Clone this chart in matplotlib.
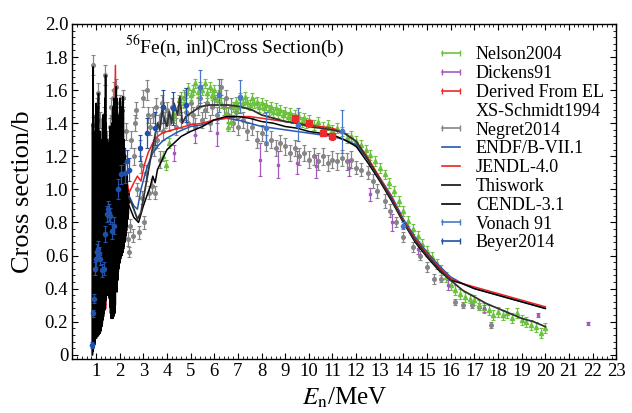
import numpy as np
import matplotlib.pyplot as plt
from matplotlib.lines import Line2D
from matplotlib.ticker import MultipleLocator

plt.rcParams['font.family'] = ['Liberation Serif', 'DejaVu Serif']
plt.rcParams['mathtext.fontset'] = 'stix'

# ---- resonance region (black evaluated curve below 2.4 MeV) ----
res_e = [0.84, 0.855, 0.865, 0.88, 0.89, 0.905, 0.915, 0.93, 0.94, 0.955, 0.965, 0.98, 0.99,
         1.005, 1.015, 1.03, 1.04, 1.055, 1.065, 1.08, 1.09, 1.105, 1.115, 1.13, 1.14, 1.155,
         1.165, 1.18, 1.19, 1.205, 1.215, 1.23, 1.24, 1.255, 1.265, 1.28, 1.29, 1.305, 1.315,
         1.33, 1.34, 1.355, 1.365, 1.38, 1.39, 1.405, 1.415, 1.43, 1.44, 1.455, 1.465, 1.48,
         1.49, 1.505, 1.515, 1.53, 1.54, 1.555, 1.565, 1.58, 1.59, 1.605, 1.615, 1.63, 1.64,
         1.655, 1.665, 1.68, 1.69, 1.705, 1.715, 1.73, 1.74, 1.755, 1.765, 1.78, 1.79, 1.805,
         1.815, 1.83, 1.84, 1.855, 1.865, 1.88, 1.89, 1.905, 1.915, 1.93, 1.94, 1.955, 1.965,
         1.98, 1.99, 2.005, 2.015, 2.03, 2.04, 2.055, 2.065, 2.08, 2.09, 2.105, 2.115, 2.13,
         2.14, 2.155, 2.165, 2.18, 2.19, 2.205, 2.215, 2.23, 2.24, 2.255, 2.265, 2.28, 2.29,
         2.305, 2.315, 2.33, 2.34, 2.355, 2.365, 2.38, 2.40]
res_y = [0.00, 1.40, 0.02, 1.74, 0.04, 1.35, 0.05, 1.30, 0.06, 1.22, 0.08, 1.45, 0.10,
         1.52, 0.10, 1.38, 0.12, 1.42, 0.11, 1.50, 0.12, 1.58, 0.12, 1.30, 0.13, 1.25,
         0.13, 1.35, 0.14, 1.30, 0.15, 1.15, 0.17, 1.25, 0.19, 1.40, 0.21, 1.45, 0.23,
         1.30, 0.25, 1.35, 0.27, 1.55, 0.30, 1.69, 0.33, 1.40, 0.36, 1.20, 0.38, 1.30,
         0.36, 1.28, 0.38, 1.12, 0.40, 1.10, 0.34, 1.30, 0.29, 1.38, 0.25, 1.28, 0.22,
         1.25, 0.23, 1.40, 0.24, 1.45, 0.22, 1.50, 0.23, 1.55, 0.24, 1.40, 0.25, 1.35,
         0.30, 1.45, 0.40, 1.62, 0.45, 1.55, 0.38, 1.30, 0.45, 1.35, 0.50, 1.40, 0.52,
         1.45, 0.55, 1.55, 0.56, 1.45, 0.58, 1.35, 0.60, 1.42, 0.60, 1.50, 0.62, 1.56,
         0.62, 1.48, 0.64, 1.30, 0.66, 1.25, 0.68, 1.20, 0.70, 1.10, 0.72, 1.05, 0.75,
         1.10, 0.78, 1.00, 0.82, 0.95, 0.85, 0.98, 0.92]

jendl_res_e = [0.86, 0.95, 1.00, 1.05, 1.20, 1.30, 1.42, 1.46, 1.50, 1.60, 1.70, 1.78, 1.82, 1.86, 1.95, 2.10, 2.25, 2.40]
jendl_res_y = [0.00, 0.10, 0.55, 0.12, 0.90, 0.50, 0.28, 0.45, 1.20, 0.70, 1.30, 0.90, 1.75, 1.00, 1.20, 0.70, 1.10, 0.98]

# ---- smooth evaluated curves ----
thiswork_e = [2.4, 2.6, 2.75, 2.9, 3.05, 3.2, 3.35, 3.5, 3.6, 3.7, 3.8, 3.9, 4.0, 4.1, 4.2, 4.3,
              4.45, 4.55, 4.65, 4.8, 5.0, 5.4, 5.8, 6.2, 6.6, 7.1, 7.6, 8.0, 8.5, 9.0, 9.5, 10.0,
              10.5, 11.0, 11.5, 12.0, 12.5, 13.0, 13.5, 14.0, 14.5, 15.0, 15.5, 16.0, 16.5, 17.0,
              17.5, 18.0, 18.5, 19.0, 19.5, 20.0]
thiswork_y = [0.95, 0.88, 0.82, 0.86, 0.98, 1.10, 1.22, 1.33, 1.40, 1.36, 1.48, 1.42, 1.38, 1.47,
              1.40, 1.52, 1.45, 1.56, 1.40, 1.44, 1.46, 1.50, 1.51, 1.51, 1.51, 1.50, 1.48, 1.45,
              1.43, 1.41, 1.40, 1.38, 1.37, 1.36, 1.34, 1.29, 1.18, 1.06, 0.94, 0.80, 0.69, 0.60,
              0.52, 0.45, 0.39, 0.35, 0.31, 0.28, 0.25, 0.22, 0.20, 0.17]

cendl_e = [2.4, 2.6, 2.8, 3.0, 3.2, 3.3, 3.4, 3.5, 3.6, 3.8, 4.0, 4.3, 4.6, 5.0, 5.5, 6.0, 6.5,
           7.0, 7.5, 8.0, 8.5, 9.0, 9.5, 10.0, 10.5, 11.0, 11.5, 12.0, 12.5, 13.0, 13.5, 14.0,
           14.5, 15.0, 15.5, 16.0, 16.5, 17.0, 17.5, 18.0, 18.5, 19.0, 19.5, 20.0]
cendl_y = [0.90, 0.83, 0.80, 0.90, 0.98, 1.02, 1.08, 1.04, 1.12, 1.18, 1.24, 1.28, 1.32, 1.35,
           1.38, 1.42, 1.44, 1.44, 1.43, 1.41, 1.40, 1.38, 1.37, 1.35, 1.34, 1.33, 1.30, 1.26,
           1.16, 1.05, 0.93, 0.80, 0.68, 0.59, 0.51, 0.45, 0.43, 0.40, 0.38, 0.36, 0.34, 0.32,
           0.30, 0.28]

jendl_e = [2.4, 2.6, 2.75, 2.9, 3.05, 3.2, 3.4, 3.6, 3.8, 4.0, 4.5, 5.0, 5.5, 6.0, 6.5, 7.0,
           7.5, 8.0, 8.5, 9.0, 9.5, 10.0, 10.5, 11.0, 11.5, 12.0, 12.5, 13.0, 13.5, 14.0, 14.5,
           15.0, 15.5, 16.0, 16.5, 17.0, 17.5, 18.0, 18.5, 19.0, 19.5, 20.0]
jendl_y = [0.98, 1.04, 1.08, 1.05, 1.15, 1.22, 1.28, 1.32, 1.34, 1.35, 1.37, 1.39, 1.40, 1.42,
           1.43, 1.44, 1.44, 1.43, 1.42, 1.41, 1.40, 1.39, 1.38, 1.37, 1.34, 1.29, 1.19, 1.07,
           0.95, 0.81, 0.70, 0.61, 0.53, 0.46, 0.43, 0.41, 0.39, 0.37, 0.35, 0.33, 0.31, 0.29]

endf_e = [2.4, 2.6, 2.75, 2.9, 3.05, 3.2, 3.4, 3.6, 3.8, 4.0, 4.5, 5.0, 5.5, 6.0, 6.5, 7.0,
          7.5, 8.0, 8.5, 9.0, 9.5, 10.0, 10.5, 11.0, 11.5, 12.0, 12.5, 13.0, 13.5, 14.0, 14.5,
          15.0, 15.5, 16.0, 16.5, 17.0, 17.5, 18.0, 18.5, 19.0, 19.5, 20.0]
endf_y = [0.96, 0.90, 0.88, 1.00, 1.08, 1.15, 1.22, 1.26, 1.29, 1.31, 1.35, 1.38, 1.39, 1.42,
          1.43, 1.42, 1.40, 1.38, 1.37, 1.36, 1.35, 1.34, 1.33, 1.32, 1.30, 1.27, 1.18, 1.07,
          0.96, 0.82, 0.71, 0.62, 0.54, 0.47, 0.43, 0.40, 0.38, 0.36, 0.34, 0.32, 0.30, 0.28]

# ---- measurements ----
negret_e = [0.87, 0.88, 0.90, 0.92, 0.95, 0.98, 1.00, 1.03, 1.06, 1.10, 1.12, 1.15, 1.20, 1.25,
            1.28, 1.32, 1.36, 1.40, 1.45, 1.50, 1.55, 1.60, 1.62, 1.66, 1.70, 1.75, 1.78, 1.82,
            1.86, 1.90, 1.95, 2.00, 2.05, 2.10, 2.15, 2.20, 2.25, 2.30, 2.35, 2.40, 2.45, 2.50,
            2.55, 2.60, 2.65, 2.70, 2.75, 2.80, 2.85, 2.90, 2.95, 3.00, 3.05, 3.10, 3.16, 3.20,
            3.25, 3.30, 3.35, 3.40, 3.45, 3.50, 3.55, 3.60, 3.65, 3.70, 3.75, 3.80, 3.85, 3.90,
            4.0, 4.1, 4.2, 4.3, 4.4, 4.5, 4.6, 4.7, 4.8, 4.9, 5.0, 5.1, 5.2, 5.3, 5.4, 5.5, 5.6,
            5.7, 5.8, 5.9, 6.0, 6.1, 6.2, 6.3, 6.4, 6.5, 6.6, 6.7, 6.8, 6.9, 7.0, 7.2, 7.4, 7.6,
            7.8, 8.0, 8.2, 8.4, 8.6, 8.8, 9.0, 9.2, 9.4, 9.6, 9.8, 10.0, 10.2, 10.4, 10.6, 10.8,
            11.0, 11.2, 11.4, 11.6, 11.8, 12.0, 12.2, 12.5, 12.7, 12.9, 13.2, 13.45, 13.7, 14.0,
            14.4, 14.7, 15.0, 15.3, 15.6, 16.2, 16.5, 16.9, 17.2, 17.7]
negret_y = [1.39, 1.75, 1.20, 0.90, 1.10, 1.25, 0.60, 1.50, 1.35, 1.58, 0.40, 1.42, 1.15, 0.90,
            1.25, 1.45, 1.10, 1.69, 1.30, 1.00, 1.25, 1.38, 1.50, 1.44, 1.55, 1.60, 0.70, 1.38,
            1.62, 1.45, 1.30, 1.52, 1.35, 1.48, 1.55, 1.20, 1.35, 0.95, 0.70, 0.62, 0.78, 1.30,
            0.72, 1.20, 1.40, 1.48, 1.00, 0.74, 1.25, 1.15, 0.95, 1.55, 0.80, 1.10, 1.60, 1.45,
            0.98, 1.38, 1.02, 1.45, 1.25, 0.98, 1.50, 1.30, 1.40, 1.18, 1.45, 1.52, 1.35, 1.42,
            1.48, 1.40, 1.50, 1.45, 1.38, 1.50, 1.42, 1.55, 1.47, 1.40, 1.52, 1.45, 1.38, 1.50,
            1.55, 1.42, 1.48, 1.52, 1.40, 1.50, 1.55, 1.45, 1.58, 1.62, 1.50, 1.55, 1.45, 1.50,
            1.40, 1.47, 1.38, 1.42, 1.35, 1.38, 1.30, 1.34, 1.28, 1.30, 1.25, 1.28, 1.26, 1.22,
            1.25, 1.20, 1.22, 1.18, 1.20, 1.17, 1.20, 1.16, 1.18, 1.17, 1.19, 1.17, 1.18, 1.13,
            1.12, 1.10, 1.05, 0.99, 0.93, 0.87, 0.80, 0.71, 0.65, 0.60, 0.53, 0.46, 0.46, 0.32,
            0.30, 0.30, 0.29, 0.18]
negret_err = [0.05, 0.06, 0.05, 0.04, 0.05, 0.05, 0.04, 0.05, 0.05, 0.06, 0.03, 0.05, 0.05, 0.04,
              0.05, 0.05, 0.05, 0.06, 0.05, 0.05, 0.05, 0.05, 0.05, 0.05, 0.05, 0.05, 0.04, 0.05,
              0.05, 0.05, 0.05, 0.05, 0.05, 0.05, 0.05, 0.05, 0.05, 0.04, 0.04, 0.03, 0.04, 0.05,
              0.04, 0.05, 0.05, 0.05, 0.04, 0.04, 0.05, 0.05, 0.04, 0.05, 0.04, 0.05, 0.06, 0.05,
              0.04, 0.05, 0.04, 0.05, 0.05, 0.04, 0.05, 0.05, 0.05, 0.05, 0.05, 0.05, 0.05, 0.05,
              0.05, 0.05, 0.05, 0.05, 0.05, 0.05, 0.05, 0.05, 0.05, 0.05, 0.05, 0.05, 0.05, 0.05,
              0.05, 0.05, 0.05, 0.05, 0.05, 0.05, 0.05, 0.05, 0.05, 0.05, 0.05, 0.05, 0.05, 0.05,
              0.05, 0.05, 0.05, 0.05, 0.05, 0.05, 0.05, 0.05, 0.05, 0.05, 0.05, 0.05, 0.05, 0.05,
              0.05, 0.05, 0.05, 0.05, 0.05, 0.05, 0.05, 0.05, 0.05, 0.05, 0.05, 0.05, 0.05, 0.04,
              0.04, 0.04, 0.04, 0.04, 0.04, 0.04, 0.03, 0.03, 0.03, 0.03, 0.03, 0.03, 0.02, 0.02,
              0.02, 0.02, 0.02, 0.02]

nelson_e = [3.85, 3.95, 4.1, 4.3, 4.5, 4.6, 4.7, 4.8, 4.9, 5.0, 5.1, 5.2, 5.3, 5.4, 5.5, 5.6,
            5.7, 5.8, 5.9, 6.0, 6.1, 6.2, 6.3, 6.5, 6.6, 6.7, 6.8, 6.9, 7.0, 7.1, 7.2, 7.3, 7.4,
            7.5, 7.6, 7.7, 7.8, 7.9, 8.0, 8.1, 8.2, 8.3, 8.4, 8.5, 8.6, 8.7, 8.8, 8.9, 9.0, 9.1,
            9.2, 9.3, 9.4, 9.5, 9.6, 9.7, 9.8, 9.9, 10.0, 10.2, 10.4, 10.6, 10.8, 11.0, 11.2,
            11.4, 11.6, 11.8, 12.0, 12.2, 12.4, 12.6, 12.8, 13.0, 13.2, 13.4, 13.6, 13.8, 14.0,
            14.2, 14.4, 14.6, 14.8, 15.0, 15.2, 15.4, 15.6, 15.8, 16.0, 16.2, 16.4, 16.6, 16.8,
            17.0, 17.2, 17.4, 17.6, 17.8, 18.0, 18.2, 18.4, 18.6, 18.8, 19.0, 19.2, 19.4, 19.6,
            19.8, 20.0]
nelson_y = [1.20, 1.15, 1.28, 1.45, 1.54, 1.56, 1.52, 1.58, 1.61, 1.57, 1.60, 1.64, 1.59, 1.62,
            1.60, 1.64, 1.58, 1.62, 1.57, 1.60, 1.54, 1.57, 1.52, 1.46, 1.38, 1.41, 1.50, 1.53,
            1.50, 1.55, 1.52, 1.56, 1.53, 1.51, 1.55, 1.52, 1.53, 1.50, 1.52, 1.49, 1.51, 1.48,
            1.50, 1.47, 1.49, 1.46, 1.48, 1.45, 1.47, 1.44, 1.46, 1.43, 1.45, 1.42, 1.44, 1.41,
            1.43, 1.40, 1.42, 1.39, 1.41, 1.38, 1.39, 1.36, 1.37, 1.35, 1.31, 1.32, 1.29, 1.27,
            1.24, 1.21, 1.17, 1.13, 1.09, 1.04, 0.99, 0.93, 0.87, 0.81, 0.76, 0.72, 0.67, 0.63,
            0.59, 0.55, 0.51, 0.47, 0.42, 0.39, 0.37, 0.35, 0.34, 0.33, 0.30, 0.28, 0.27, 0.24,
            0.26, 0.24, 0.25, 0.22, 0.25, 0.21, 0.20, 0.18, 0.17, 0.13, 0.16]

dickens_e = [4.3, 5.2, 6.1, 7.95, 8.7, 9.5, 10.3, 11.7, 12.6, 13.5, 14.6, 15.9, 17.4, 19.7, 21.8]
dickens_y = [1.22, 1.33, 1.34, 1.18, 1.15, 1.16, 1.14, 1.13, 0.97, 0.80, 0.64, 0.42, 0.28, 0.24, 0.19]
dickens_err = [0.05, 0.05, 0.08, 0.10, 0.08, 0.07, 0.07, 0.05, 0.04, 0.05, 0.03, 0.03, 0.02, 0.01, 0.01]

schmidt_e = [9.43, 10.0, 10.6, 11.0]
schmidt_y = [1.43, 1.40, 1.34, 1.32]
schmidt_err = [0.02, 0.02, 0.02, 0.02]

beyer_e = [0.83, 0.88, 0.93, 0.97, 1.00, 1.04, 1.08, 1.11, 1.18, 1.25, 1.32, 1.39, 1.45, 1.50,
           1.55, 1.60, 1.67, 1.78, 1.92, 2.07, 2.21, 2.31, 2.40, 2.86, 3.15, 3.50, 3.85, 4.27, 4.80]
beyer_y = [0.06, 0.25, 0.34, 0.52, 0.58, 0.62, 0.64, 0.61, 0.58, 0.51, 0.52, 0.73, 0.85, 0.88,
           0.86, 0.84, 0.75, 0.78, 1.00, 1.09, 1.10, 1.17, 1.12, 1.25, 1.34, 1.37, 1.50, 1.49, 1.51]
beyer_err = [0.02, 0.02, 0.03, 0.04, 0.05, 0.05, 0.05, 0.04, 0.04, 0.04, 0.04, 0.05, 0.05, 0.05,
             0.05, 0.05, 0.05, 0.05, 0.06, 0.06, 0.06, 0.07, 0.07, 0.08, 0.09, 0.10, 0.10, 0.10, 0.10]

vonach_e = [5.4, 6.2, 7.07, 8.2, 9.56, 11.4, 14.0]
vonach_y = [1.62, 1.57, 1.56, 1.37, 1.39, 1.35, 0.78]
vonach_err = [0.10, 0.10, 0.10, 0.10, 0.10, 0.13, 0.02]

xtick_vals = list(range(1, 24))
ytick_vals = [0, 0.2, 0.4, 0.6, 0.8, 1.0, 1.2, 1.4, 1.6, 1.8, 2.0]
ytick_text = ['0', '0.2', '0.4', '0.6', '0.8', '1.0', '1.2', '1.4', '1.6', '1.8', '2.0']

c_green = '#6cc23f'
c_purple = '#a35cbd'
c_red = '#ee2a2a'
c_gray = '#858585'
c_endf = '#2457b0'
c_jendl = '#f02020'
c_this = '#333333'
c_cendl = '#000000'
c_vonach = '#4a78c8'
c_beyer = '#2050a8'

fig = plt.figure(figsize=(6.32, 4.13), dpi=100)
ax = fig.add_axes([0.1145, 0.131, 0.8606, 0.811])

eb = dict(ls='none', capsize=1.5, elinewidth=0.9, capthick=0.8)
ax.errorbar(negret_e, negret_y, yerr=negret_err, fmt='o', ms=2.6, color=c_gray, zorder=2, **eb)
ax.plot(jendl_res_e, jendl_res_y, color=c_jendl, lw=1.1, zorder=3)
ax.plot(res_e, res_y, color='black', lw=1.2, zorder=3)
ax.errorbar(nelson_e, nelson_y, yerr=0.03, fmt='^', ms=3, color=c_green, zorder=3, **eb)
ax.errorbar(dickens_e, dickens_y, yerr=dickens_err, fmt='s', ms=2, color=c_purple, zorder=3, **eb)

ax.plot(endf_e, endf_y, color=c_endf, lw=1.1, zorder=4)
ax.plot(jendl_e, jendl_y, color=c_jendl, lw=1.1, zorder=4)
ax.plot(cendl_e, cendl_y, color=c_cendl, lw=1.1, zorder=4)
ax.plot(thiswork_e, thiswork_y, color=c_this, lw=1.3, zorder=4)

ax.errorbar(beyer_e, beyer_y, yerr=beyer_err, fmt='o', ms=3, color=c_beyer, zorder=5, **eb)
ax.errorbar(vonach_e, vonach_y, yerr=vonach_err, fmt='o', ms=3, color=c_vonach, zorder=5, **eb)
ax.errorbar(schmidt_e, schmidt_y, yerr=schmidt_err, fmt='s', ms=4.5, color=c_red, zorder=5, **eb)

ax.set_xlim(0, 23)
ax.set_ylim(-0.025, 2.0)
ax.set_xticks(xtick_vals)
ax.set_xticklabels([str(v) for v in xtick_vals])
ax.set_yticks(ytick_vals)
ax.set_yticklabels(ytick_text)
ax.xaxis.set_minor_locator(MultipleLocator(0.2))
ax.yaxis.set_minor_locator(MultipleLocator(0.04))
ax.tick_params(which='both', direction='in', top=True, right=True, labelsize=13.5, pad=3)
ax.tick_params(which='major', length=4, width=0.8)
ax.tick_params(which='minor', length=2, width=0.6)
for s in ax.spines.values():
    s.set_linewidth(1.0)

ax.set_xlabel(r'$E_{\rm n}$/MeV', fontsize=18, labelpad=4)
ax.set_ylabel('Cross section/b', fontsize=19, labelpad=8)
ax.text(0.097, 0.935, r'$^{56}$Fe(n, inl)Cross Section(b)', transform=ax.transAxes,
        fontsize=14, va='center', ha='left')

handles = [
    Line2D([], [], color=c_green, marker='|', ms=5, lw=1.2),
    Line2D([], [], color=c_purple, marker='|', ms=5, lw=1.2),
    Line2D([], [], color=c_red, marker='|', ms=5, lw=1.2),
    Line2D([], [], color='none'),
    Line2D([], [], color=c_gray, marker='|', ms=5, lw=1.2),
    Line2D([], [], color=c_endf, lw=1.2),
    Line2D([], [], color=c_jendl, lw=1.2),
    Line2D([], [], color=c_this, lw=1.4),
    Line2D([], [], color=c_cendl, lw=1.2),
    Line2D([], [], color=c_vonach, marker='|', ms=5, lw=1.2),
    Line2D([], [], color=c_beyer, marker='|', ms=5, lw=1.2),
]
labels = ['Nelson2004', 'Dickens91', 'Derived From EL', 'XS-Schmidt1994', 'Negret2014',
          'ENDF/B-VII.1', 'JENDL-4.0', 'Thiswork', 'CENDL-3.1', 'Vonach 91', 'Beyer2014']
ax.legend(handles, labels, loc='upper left', bbox_to_anchor=(0.669, 0.933), frameon=False,
          fontsize=13, numpoints=2, handlelength=1.6, handletextpad=0.6, labelspacing=0.1,
          borderpad=0, borderaxespad=0)

fig.savefig('out.png', dpi=100)
